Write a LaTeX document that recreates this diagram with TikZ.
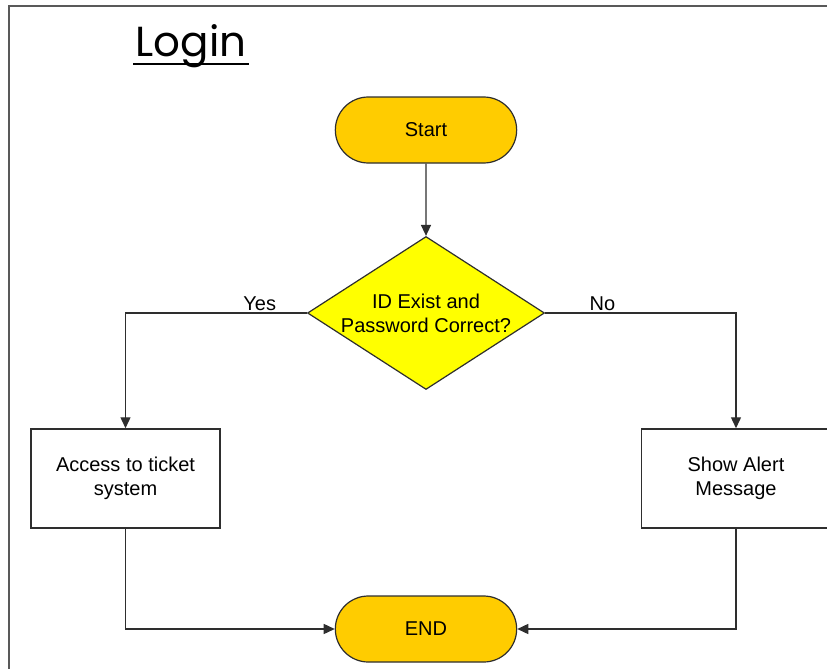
\documentclass[tikz,border=0pt]{standalone}
\usepackage{fontspec}
\setmainfont{Liberation Sans}
\newfontfamily\titlefont{Poppins}
\usetikzlibrary{positioning, arrows.meta, shapes.geometric, shapes.misc}

\definecolor{termfill}{HTML}{FFCC00}
\definecolor{testfill}{HTML}{FFFF00}
\definecolor{linegray}{HTML}{2E2E2E}

\begin{document}
\begin{tikzpicture}[
    % GLOBAL CFG
    x=1pt, y=-1pt,
    font=\fontsize{20}{24}\selectfont,
    >={Triangle[length=11pt, width=10pt]},
    % Styles
    terminal/.style={% For start and end
        rounded rectangle,
        draw=linegray,
        line width=1.2pt,
        fill=termfill,
        minimum width=188pt,
        minimum height=66pt,
        },
    test/.style={% For the question
        diamond,
        draw=linegray,
        line width=1.2pt,
        fill=testfill,
        inner sep=0pt,
        minimum width=237pt,
        minimum height=153pt,
        },
    process/.style={% For the boxes
        rectangle,
        draw=linegray,
        line width=1.5pt,
        align=center,
        minimum width=189pt,
        minimum height=99pt,
        },
    flow/.style={% Connectors
        draw=linegray,
        line width=1.4pt,
        ->,
        },
    mylabel/.style={% Yes / No
        inner sep=2pt,
        },
    ]

    \useasboundingbox (0,0) rectangle (827,669);

    % Frame
    \draw [gray!70!black, line width=2pt] (9,669) |- (828,6);

    % Title, underlined by hand
    \node [anchor=base, inner sep=0pt, font=\titlefont\fontsize{42}{46}\selectfont] (title) at (191,57) {Login};
    \draw [line width=2pt] ([xshift=-2pt, yshift=-7pt]title.base west) -- ([xshift=2pt, yshift=-7pt]title.base east);

    % Draw the shapes
    \node [terminal] (start) at (426,130) {Start};
    \node [test, label={[align=center]center:ID Exist and\\Password Correct?}] (check) at (426,313) {};
    \node [process] (access) at (125.5,478.5) {Access to ticket\\system};
    \node [process] (alert) at (736,478.5) {Show Alert\\Message};
    \node [terminal] (stop) at (426,629) {END};

    % Connect all
    \draw [flow] (start) -- (check);
    \draw [flow] (check.west) -| node [mylabel, pos=0.13, above] {Yes} (access);
    \draw [flow] (check.east) -| node [mylabel, pos=0.15, above] {No} (alert);
    \draw [flow] (access) |- (stop);
    \draw [flow] (alert) |- (stop);

\end{tikzpicture}
\end{document}
